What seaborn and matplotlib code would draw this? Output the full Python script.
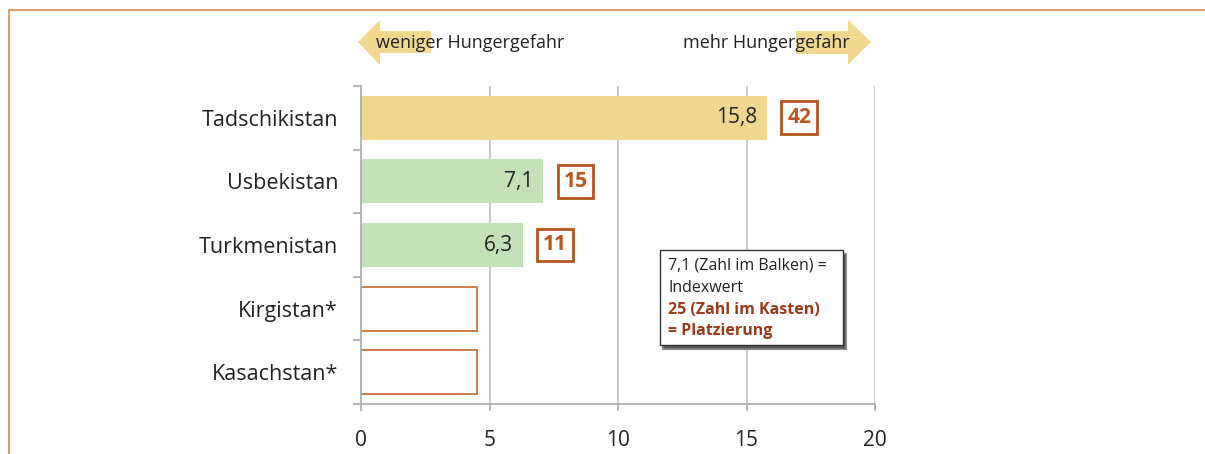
import matplotlib
matplotlib.use("Agg")
import matplotlib.pyplot as plt
import matplotlib.patches as mpatches
import seaborn as sns
import pandas as pd

countries = ["Tadschikistan", "Usbekistan", "Turkmenistan", "Kirgistan*", "Kasachstan*"]
index_values = [15.8, 7.1, 6.3, 4.5, 4.5]
value_labels = ["15,8", "7,1", "6,3", "", ""]
ranks = ["42", "15", "11", "", ""]
bar_colors = ["#efd78f", "#c3e0b9", "#c3e0b9", "#ffffff", "#ffffff"]
estimated = [False, False, False, True, True]
x_ticks = [0, 5, 10, 15, 20]

sns.set_theme(style="white")
plt.rcParams["font.family"] = ["Open Sans", "DejaVu Sans"]

W, H = 1205, 454
fig = plt.figure(figsize=(W / 100, H / 100), dpi=100)


def fx(px):
    return px / W


def fy(py):
    return 1 - py / H


ax = fig.add_axes([fx(361), fy(404), fx(875) - fx(361), fy(86) - fy(404)])

df = pd.DataFrame({"land": countries, "wert": index_values})
sns.barplot(data=df, x="wert", y="land", hue="land", palette=bar_colors,
            legend=False, width=0.69, ax=ax, saturation=1, zorder=3)

BROWN = "#b4561e"
OUTLINE = "#c9733d"
for patch, est in zip(ax.patches, estimated):
    patch.set_linewidth(0)
    if est:
        patch.set_facecolor("none")
        patch.set_edgecolor(OUTLINE)
        patch.set_linewidth(1.3)

ax.set_xlim(0, 20)
ax.set_ylim(4.5, -0.5)
ax.set_xticks(x_ticks)
ax.set_xticklabels([str(t) for t in x_ticks])
ax.set_xlabel("")
ax.set_ylabel("")

GRID = "#c4c4c4"
for t in x_ticks[1:]:
    ax.axvline(t, color=GRID, lw=1.3, zorder=1)

for s in ["top", "right"]:
    ax.spines[s].set_visible(False)
for s in ["left", "bottom"]:
    ax.spines[s].set_color("#b0b0b0")
    ax.spines[s].set_linewidth(1.3)
    ax.spines[s].set_zorder(4)

ax.tick_params(axis="x", length=5, width=1.3, color="#b0b0b0", pad=14,
               labelsize=15, labelcolor="#222222", bottom=True)
ax.tick_params(axis="y", which="major", length=0, pad=16.5, labelsize=15.5,
               labelcolor="#222222", left=True)
ax.set_yticks([i - 0.5 for i in range(len(countries) + 1)], minor=True)
ax.tick_params(axis="y", which="minor", length=6, width=1.3, color="#b0b0b0", left=True)

for i, (v, lab, r) in enumerate(zip(index_values, value_labels, ranks)):
    if lab:
        ax.annotate(lab, xy=(v, i), xytext=(-7, 0), textcoords="offset points",
                    ha="right", va="center", fontsize=15, color="#222222", zorder=5)
    if r:
        ax.text(v + 1.25, i, r, ha="center", va="center", fontsize=15,
                fontweight="bold", color=BROWN, zorder=5,
                bbox=dict(boxstyle="square,pad=0.28", fc="white", ec=BROWN, lw=2))

# explanation box with shadow
bx0, by0, bx1, by1 = 660, 250, 843, 345
shadow = mpatches.Rectangle((fx(bx0 + 3), fy(by1 + 4)), fx(bx1) - fx(bx0), fy(by0) - fy(by1),
                            transform=fig.transFigure, fc="#3a3a3a", ec="#7a7a7a", lw=1.5,
                            alpha=0.85, zorder=9)
rect = mpatches.Rectangle((fx(bx0), fy(by1)), fx(bx1) - fx(bx0), fy(by0) - fy(by1),
                          transform=fig.transFigure, fc="white", ec="#333333", lw=1.0,
                          zorder=10)
fig.add_artist(shadow)
fig.add_artist(rect)
lines = [("7,1 (Zahl im Balken) =", "normal", "#222222"),
         ("Indexwert", "normal", "#222222"),
         ("25 (Zahl im Kasten)", "bold", "#9b3a1a"),
         ("= Platzierung", "bold", "#9b3a1a")]
for k, (txt, wt, col) in enumerate(lines):
    fig.text(fx(668), fy(266 + k * 21.8), txt, ha="left", va="center", fontsize=11.5,
             fontweight=wt, color=col, zorder=11)

# direction arrows
ARROW = "#f0d88e"
left_arrow = mpatches.Polygon([
    (fx(358), fy(42)), (fx(380), fy(20)), (fx(380), fy(31)), (fx(431), fy(31)),
    (fx(431), fy(53)), (fx(380), fy(53)), (fx(380), fy(65))],
    closed=True, transform=fig.transFigure, fc=ARROW, ec="none", zorder=1)
right_arrow = mpatches.Polygon([
    (fx(871), fy(42)), (fx(848), fy(20)), (fx(848), fy(31)), (fx(796), fy(31)),
    (fx(796), fy(54)), (fx(848), fy(54)), (fx(848), fy(65))],
    closed=True, transform=fig.transFigure, fc=ARROW, ec="none", zorder=1)
fig.add_artist(left_arrow)
fig.add_artist(right_arrow)
fig.text(fx(376), fy(43), "weniger Hungergefahr", ha="left", va="center",
         fontsize=13, color="#222222", zorder=2)
fig.text(fx(850), fy(43), "mehr Hungergefahr", ha="right", va="center",
         fontsize=13, color="#222222", zorder=2)

# frame lines
FRAME = "#d9a077"
fig.add_artist(plt.Line2D([fx(9), 1], [fy(10), fy(10)], transform=fig.transFigure,
                          color=FRAME, lw=1.5))
fig.add_artist(plt.Line2D([fx(9), fx(9)], [fy(10), 0], transform=fig.transFigure,
                          color=FRAME, lw=1.5))

fig.savefig("out.png", dpi=100)
